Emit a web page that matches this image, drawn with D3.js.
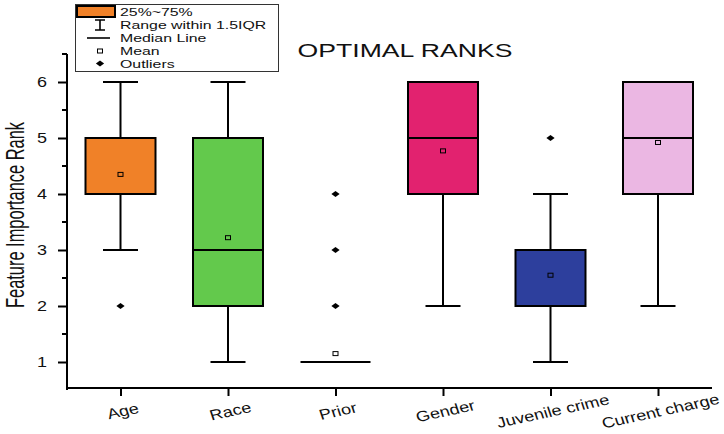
<!DOCTYPE html>
<html>
<head>
<meta charset="utf-8">
<script src="https://cdn.jsdelivr.net/npm/d3@7"></script>
<style>
  html, body { margin: 0; padding: 0; background: #fff; }
  svg { display: block; }
  text { font-family: "Liberation Sans", Arial, sans-serif; }
</style>
</head>
<body>
<svg id="chart" width="724" height="434"></svg>
<script>
// Feature importance ranks per feature (box statistics)
const features = ["Age", "Race", "Prior", "Gender", "Juvenile crime", "Current charge"];
const q1       = [4, 2, 1, 4, 2, 4];
const q3       = [5, 5, 1, 6, 3, 6];
const medians  = [4, 3, 1, 5, 2, 5];
const means    = [4.35, 3.22, 1.15, 4.77, 2.55, 4.92];
const whiskLo  = [3, 1, 1, 2, 1, 2];
const whiskHi  = [6, 6, 1, 6, 4, 6];
const outliers = [[2], [], [2, 3, 4], [], [5], []];
const colors   = ["#f08128", "#63c94c", "#ffffff", "#e2226f", "#2d3f9d", "#ebb7e3"];
const yTicks   = [1, 2, 3, 4, 5, 6];
const legendItems = ["25%~75%", "Range within 1.5IQR", "Median Line", "Mean", "Outliers"];

const svg = d3.select("#chart");
const plotLeft = 67, plotRight = 712, plotTop = 54, plotBottom = 390;

const x = d3.scalePoint().domain(features).range([120.5, 658]);
const y = d3.scaleLinear().domain([0.5, 6.5]).range([plotBottom, plotTop]);

const boxW = 70, capW = 35;

// Title (wide lettering)
svg.append("text")
  .attr("transform", "translate(405,57) scale(1.4,1)")
  .attr("text-anchor", "middle")
  .attr("font-size", 19)
  .attr("fill", "#111")
  .text("OPTIMAL RANKS");

// Y axis
const yAxis = d3.axisLeft(y).tickValues(yTicks).tickSize(9).tickPadding(0).tickFormat(d3.format("d"));
const gy = svg.append("g").attr("transform", `translate(${plotLeft},0)`).call(yAxis);
gy.select(".domain").attr("stroke-width", 2).attr("d", `M0,${plotTop}V${plotBottom}`);
gy.selectAll(".tick line").attr("stroke-width", 2);
gy.selectAll(".tick text")
  .attr("x", null)
  .attr("transform", "translate(-20,0) scale(1.2,1)")
  .attr("font-size", 15).attr("fill", "#111");
// Minor ticks at half ranks
gy.selectAll(".minor").data(d3.range(1.5, 7, 1)).enter().append("line")
  .attr("x1", -5).attr("x2", 0)
  .attr("y1", d => y(d)).attr("y2", d => y(d))
  .attr("stroke", "#000").attr("stroke-width", 2);

// X axis
const xAxis = d3.axisBottom(x).tickSize(8).tickFormat("");
const gx = svg.append("g").attr("transform", `translate(0,${plotBottom - 2})`).call(xAxis);
gx.select(".domain").attr("stroke-width", 2).attr("d", `M${plotLeft},0H${plotRight}`);
gx.selectAll(".tick line").attr("stroke-width", 2);

// Slanted category labels
svg.append("g").selectAll("text").data(features).enter().append("text")
  .attr("transform", d => `translate(${x(d) + 4},${416}) scale(1.25,1) rotate(-15)`)
  .attr("text-anchor", "middle")
  .attr("font-size", 14.5)
  .attr("fill", "#111")
  .text(d => d);

// Y axis label
svg.append("text")
  .attr("transform", `translate(24,215) scale(1.5,1) rotate(-90)`)
  .attr("text-anchor", "middle")
  .attr("font-size", 17)
  .attr("textLength", 186)
  .attr("lengthAdjust", "spacingAndGlyphs")
  .attr("fill", "#111")
  .text("Feature Importance Rank");

// Boxes
const boxes = svg.append("g").selectAll("g").data(features).enter().append("g");

boxes.each(function(d, i) {
  const g = d3.select(this);
  const cx = x(d);
  // whiskers
  if (whiskHi[i] > q3[i]) {
    g.append("line").attr("x1", cx).attr("x2", cx).attr("y1", y(q3[i])).attr("y2", y(whiskHi[i]))
      .attr("stroke", "#000").attr("stroke-width", 2);
    g.append("line").attr("x1", cx - capW / 2).attr("x2", cx + capW / 2)
      .attr("y1", y(whiskHi[i])).attr("y2", y(whiskHi[i]))
      .attr("stroke", "#000").attr("stroke-width", 2);
  }
  if (whiskLo[i] < q1[i]) {
    g.append("line").attr("x1", cx).attr("x2", cx).attr("y1", y(q1[i])).attr("y2", y(whiskLo[i]))
      .attr("stroke", "#000").attr("stroke-width", 2);
    g.append("line").attr("x1", cx - capW / 2).attr("x2", cx + capW / 2)
      .attr("y1", y(whiskLo[i])).attr("y2", y(whiskLo[i]))
      .attr("stroke", "#000").attr("stroke-width", 2);
  }
  // box
  if (q3[i] > q1[i]) {
    g.append("rect")
      .attr("x", cx - boxW / 2).attr("width", boxW)
      .attr("y", y(q3[i])).attr("height", y(q1[i]) - y(q3[i]))
      .attr("fill", colors[i]).attr("stroke", "#000").attr("stroke-width", 2);
  }
  // median
  g.append("line").attr("x1", cx - boxW / 2).attr("x2", cx + boxW / 2)
    .attr("y1", y(medians[i])).attr("y2", y(medians[i]))
    .attr("stroke", "#000").attr("stroke-width", 2);
  // mean
  g.append("rect").attr("x", cx - 2.5).attr("y", y(means[i]) - 2).attr("width", 5).attr("height", 4)
    .attr("fill", "none").attr("stroke", "#000").attr("stroke-width", 1);
  // outliers
  g.selectAll(".out").data(outliers[i]).enter().append("path")
    .attr("d", d3.symbol(d3.symbolDiamond2, 30))
    .attr("transform", v => `translate(${cx},${y(v)}) scale(1.2,0.85)`)
    .attr("fill", "#000");
});

// Legend
const lg = svg.append("g");
lg.append("rect").attr("x", 75.5).attr("y", 4.5).attr("width", 203).attr("height", 67)
  .attr("fill", "#fff").attr("stroke", "#333").attr("stroke-width", 1);
const rowY = [11.5, 25, 38, 51, 63.5];
lg.selectAll("text").data(legendItems).enter().append("text")
  .attr("transform", (d, i) => `translate(120,${rowY[i] + 4.2}) scale(1.38,1)`)
  .attr("font-size", 11.5).attr("fill", "#111")
  .text(d => d);
// box swatch
lg.append("rect").attr("x", 77).attr("y", 6).attr("width", 38).attr("height", 11)
  .attr("fill", colors[0]).attr("stroke", "#000").attr("stroke-width", 2);
// range symbol
lg.append("path").attr("d", `M95,${rowY[1] - 5}H105M100,${rowY[1] - 5}V${rowY[1] + 5}M95,${rowY[1] + 5}H105`)
  .attr("stroke", "#000").attr("stroke-width", 1.6).attr("fill", "none");
// median symbol
lg.append("line").attr("x1", 87).attr("x2", 110).attr("y1", rowY[2]).attr("y2", rowY[2])
  .attr("stroke", "#000").attr("stroke-width", 1.6);
// mean symbol
lg.append("rect").attr("x", 97.5).attr("y", rowY[3] - 2).attr("width", 5).attr("height", 4)
  .attr("fill", "none").attr("stroke", "#000").attr("stroke-width", 1);
// outlier symbol
lg.append("path").attr("d", d3.symbol(d3.symbolDiamond2, 30))
  .attr("transform", `translate(100,${rowY[4]}) scale(1.2,0.85)`).attr("fill", "#000");
</script>
</body>
</html>
